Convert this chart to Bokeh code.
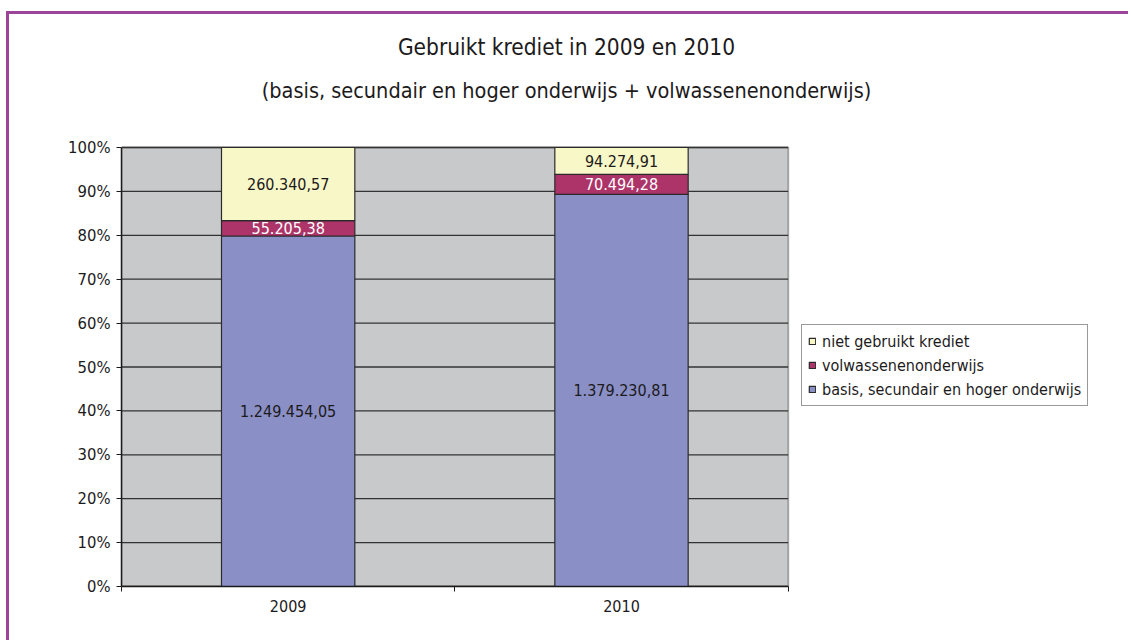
from bokeh.plotting import figure
from bokeh.models import ColumnDataSource, FixedTicker, Legend, LegendItem, NumeralTickFormatter, Label
from bokeh.embed import file_html
from bokeh.resources import INLINE
from bokeh.core.properties import value

# ---------------- data ----------------
years = ["2009", "2010"]
series = ["basis, secundair en hoger onderwijs", "volwassenenonderwijs", "niet gebruikt krediet"]
basis = [1249454.05, 1379230.81]
volwassenen = [55205.38, 70494.28]
niet_gebruikt = [260340.57, 94274.91]
y_ticks = [0, 0.1, 0.2, 0.3, 0.4, 0.5, 0.6, 0.7, 0.8, 0.9, 1.0]
title_1 = "Gebruikt krediet in 2009 en 2010"
title_2 = "(basis, secundair en hoger onderwijs + volwassenenonderwijs)"

FONT = "DejaVu Sans Condensed"
TXT = "#1C1A1B"
colors = ["#8A8FC6", "#AC3469", "#F8F7C7"]
label_colors = [TXT, "white", TXT]
PURPLE = "#9C4499"
PLOT_BG = "#C8C9CB"


def nl(v):
    return f"{v:,.2f}".replace(",", "X").replace(".", ",").replace("X", ".")


n = len(years)
totals = [b + v + g for b, v, g in zip(basis, volwassenen, niet_gebruikt)]
fb = [b / t for b, t in zip(basis, totals)]
fv = [v / t for v, t in zip(volwassenen, totals)]
fn = [g / t for g, t in zip(niet_gebruikt, totals)]
xs = [i + 0.5 for i in range(n)]

src = ColumnDataSource(dict(x=xs, basis=fb, volw=fv, niet=fn))

# frame: 1000 px wide for 3 x-units, 439 px per 100 %
p = figure(width=1122, height=629, x_range=(0, 3), y_range=(0, 572 / 439),
           output_backend="svg", toolbar_location=None, title=None,
           min_border_left=112, min_border_right=10, min_border_top=0, min_border_bottom=57)
p.styles = {"border-top": f"3px solid {PURPLE}", "border-left": f"3px solid {PURPLE}",
            "margin-left": "6px", "margin-top": "11px"}
p.background_fill_color = "white"
p.border_fill_color = "white"
p.outline_line_color = None
p.xgrid.visible = False
p.ygrid.visible = False

# plot area + horizontal grid lines
p.quad(left=0, right=n, bottom=0, top=1, fill_color=PLOT_BG, line_color="#A3A3A3", line_width=2)
p.segment(x0=[0] * len(y_ticks), x1=[n] * len(y_ticks), y0=y_ticks, y1=y_ticks,
          line_color="#333333", line_width=1.3)

# bars
rs = p.vbar_stack(["basis", "volw", "niet"], x="x", width=0.4, source=src,
                  color=colors, line_color="#2A2A2A", line_width=1.2)

# segment labels
bottoms = [[0] * n, fb, [b + v for b, v in zip(fb, fv)]]
fracs = [fb, fv, fn]
raws = [basis, volwassenen, niet_gebruikt]
for k in range(3):
    ys = [b0 + f / 2 for b0, f in zip(bottoms[k], fracs[k])]
    p.text(x=xs, y=ys, text=[nl(v) for v in raws[k]], text_align="center",
           text_baseline="middle", text_font=value(FONT), text_font_size="16px",
           text_color=label_colors[k])

# titles
for txt, ty, fs in ((title_1, 1.2278, "22.5px"), (title_2, 1.1298, "21.5px")):
    p.add_layout(Label(x=1.335, y=ty, text=txt, text_align="center", text_baseline="middle",
                       text_font=FONT, text_font_size=fs, text_color=TXT))

# axes
p.yaxis.bounds = (0, 1)
p.yaxis.ticker = FixedTicker(ticks=y_ticks)
p.yaxis.formatter = NumeralTickFormatter(format="0%")
p.yaxis.major_label_text_font = FONT
p.yaxis.major_label_text_font_size = "16.5px"
p.yaxis.major_label_text_color = TXT
p.yaxis.major_tick_out = 5
p.yaxis.major_tick_in = 0
p.yaxis.minor_tick_line_color = None
p.yaxis.axis_line_color = "#1A1A1A"
p.yaxis.axis_line_width = 1.5
p.yaxis.major_tick_line_color = "#1A1A1A"
p.yaxis.major_label_standoff = 6

p.xaxis.bounds = (0, n)
p.xaxis.ticker = FixedTicker(ticks=xs, minor_ticks=list(range(n + 1)))
p.xaxis.major_label_overrides = {x: y for x, y in zip(xs, years)}
p.xaxis.major_tick_line_color = None
p.xaxis.major_tick_out = 5
p.xaxis.major_tick_in = 0
p.xaxis.minor_tick_out = 5
p.xaxis.minor_tick_in = 0
p.xaxis.minor_tick_line_color = "#1A1A1A"
p.xaxis.axis_line_color = "#1A1A1A"
p.xaxis.axis_line_width = 1.5
p.xaxis.major_label_text_font = FONT
p.xaxis.major_label_text_font_size = "16px"
p.xaxis.major_label_text_color = TXT
p.xaxis.major_label_standoff = 8

# legend
items = [LegendItem(label=series[k], renderers=[rs[k]]) for k in (2, 1, 0)]
legend = Legend(items=items, location=(680, 180))
legend.label_text_font = FONT
legend.label_text_font_size = "16px"
legend.label_text_color = TXT
legend.glyph_width = 8
legend.glyph_height = 8
legend.label_standoff = 6
legend.label_height = 20
legend.spacing = 4
legend.padding = 6
legend.margin = 0
legend.border_line_color = "#333333"
legend.border_line_width = 1
legend.background_fill_color = "white"
legend.background_fill_alpha = 1
p.add_layout(legend, "center")

open("out.html", "w").write(file_html(p, INLINE))
